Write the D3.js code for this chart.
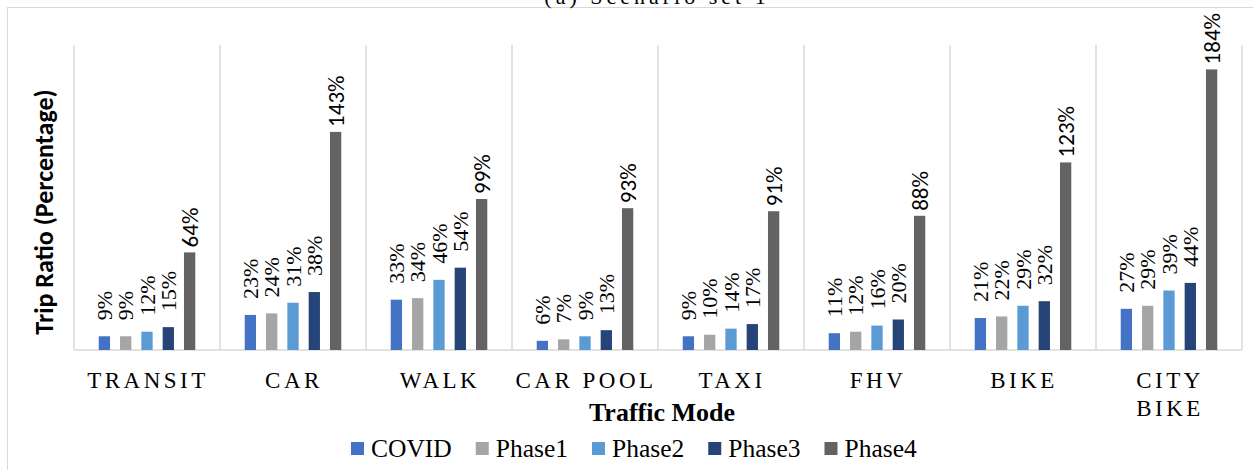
<!DOCTYPE html>
<html>
<head>
<meta charset="utf-8">
<script src="https://cdn.jsdelivr.net/npm/d3@7"></script>
<style>
  body { margin: 0; background: #fff; }
  svg { display: block; }
  .serif { font-family: "Liberation Serif", "Times New Roman", serif; }
  .sans { font-family: "Carlito", "Lato", sans-serif; }
</style>
</head>
<body>
<div id="chart"></div>
<script>
let width = 1253, height = 470;
let margin = ({top: 45, right: 11, bottom: 120, left: 74});

let modes = ["TRANSIT", "CAR", "WALK", "CAR POOL", "TAXI", "FHV", "BIKE", "CITY BIKE"];
let phases = ["COVID", "Phase1", "Phase2", "Phase3", "Phase4"];
let covid  = [9, 23, 33, 6, 9, 11, 21, 27];
let phase1 = [9, 24, 34, 7, 10, 12, 22, 29];
let phase2 = [12, 31, 46, 9, 14, 16, 29, 39];
let phase3 = [15, 38, 54, 13, 17, 20, 32, 44];
let phase4 = [64, 143, 99, 93, 91, 88, 123, 184];
let colors = ["#4472c4", "#a5a5a5", "#5b9bd5", "#264478", "#636363"];

let series = [covid, phase1, phase2, phase3, phase4];
let data = modes.map((m, i) => ({mode: m, values: phases.map((p, j) => ({phase: p, v: series[j][i]}))}));

let svg = d3.select("#chart").append("svg")
    .attr("width", width).attr("height", height);

// outer frame
svg.append("rect")
    .attr("x", 7.5).attr("y", 7.5)
    .attr("width", width + 20).attr("height", height + 20)
    .attr("fill", "none").attr("stroke", "#d9d9d9");

// caption, cut off by the top edge as in the source
svg.append("text")
    .attr("class", "serif")
    .attr("x", 657).attr("y", 4)
    .attr("text-anchor", "middle")
    .attr("font-size", 22)
    .attr("letter-spacing", 4)
    .text("(a)  Scenario set 1");

let x0 = d3.scaleBand()
    .domain(modes)
    .range([margin.left, width - margin.right]);
let x1 = d3.scaleBand()
    .domain(phases)
    .range([0, x0.bandwidth()])
    .paddingInner(0.47)
    .paddingOuter(1.16);
let y = d3.scaleLinear()
    .domain([0, 200])
    .range([height - margin.bottom, margin.top]);

// category separators
let grid = svg.append("g").attr("stroke", "#d9d9d9").attr("stroke-width", 1.5);
grid.selectAll("line")
    .data(modes.concat(["_end"]))
    .join("line")
    .attr("x1", (d, i) => i < modes.length ? x0(d) : x0.range()[1])
    .attr("x2", (d, i) => i < modes.length ? x0(d) : x0.range()[1])
    .attr("y1", y(200))
    .attr("y2", y(0));
grid.append("line")
    .attr("x1", x0.range()[0]).attr("x2", x0.range()[1])
    .attr("y1", y(0)).attr("y2", y(0));

let groups = svg.append("g")
    .selectAll("g")
    .data(data)
    .join("g")
    .attr("transform", d => `translate(${x0(d.mode)},0)`);

groups.selectAll("rect")
    .data(d => d.values)
    .join("rect")
    .attr("x", d => x1(d.phase))
    .attr("y", d => y(d.v))
    .attr("width", x1.bandwidth())
    .attr("height", d => y(0) - y(d.v))
    .attr("fill", (d, i) => colors[i]);

groups.selectAll("text")
    .data(d => d.values)
    .join("text")
    .attr("class", d => d.phase === "Phase4" ? "sans" : "serif")
    .attr("transform", d => {
        let cx = x1(d.phase) + x1.bandwidth() / 2;
        let gap = d.phase === "Phase4" ? 5 : 16;
        return `translate(${cx},${y(d.v) - gap}) rotate(-90)`;
    })
    .attr("dy", "0.35em")
    .attr("font-size", d => d.phase === "Phase4" ? 23 : 22)
    .attr("fill", "#000")
    .text(d => d.v + "%");

// category labels
let xAxis = g => g
    .attr("transform", `translate(0,${y(0)})`)
    .call(d3.axisBottom(x0).tickSize(0).tickPadding(0).tickFormat(""))
    .call(g => g.select(".domain").remove());
let ax = svg.append("g").call(xAxis);
ax.selectAll(".tick").each(function(d) {
    let words = d === "CITY BIKE" ? ["CITY", "BIKE"] : [d];
    let t = d3.select(this).append("text")
        .attr("class", "serif")
        .attr("fill", "#000")
        .attr("font-size", 23)
        .attr("letter-spacing", 3.5)
        .attr("text-anchor", "middle");
    words.forEach((w, i) => t.append("tspan").attr("x", 1).attr("y", 38 + i * 28).text(w));
});

svg.append("text")
    .attr("class", "serif")
    .attr("x", 662).attr("y", 421)
    .attr("text-anchor", "middle")
    .attr("font-weight", "bold")
    .attr("font-size", 26)
    .text("Traffic Mode");

svg.append("text")
    .attr("class", "sans")
    .attr("transform", "translate(53,212) rotate(-90)")
    .attr("text-anchor", "middle")
    .attr("font-weight", "bold")
    .attr("font-size", 26)
    .text("Trip Ratio (Percentage)");

// legend, laid out by measured text width
let legend = svg.append("g").attr("transform", "translate(351,442)");
let lx = 0;
phases.forEach((p, i) => {
    let item = legend.append("g").attr("transform", `translate(${lx},0)`);
    item.append("rect")
        .attr("width", 13).attr("height", 13)
        .attr("fill", colors[i]);
    let t = item.append("text")
        .attr("class", "serif")
        .attr("x", 20).attr("y", 15)
        .attr("font-size", 25.5)
        .text(p);
    lx += 20 + t.node().getComputedTextLength() + 24;
});
</script>
</body>
</html>
